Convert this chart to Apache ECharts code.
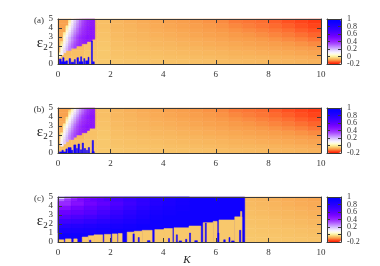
<!DOCTYPE html>
<html><head><meta charset="utf-8">
<script src="https://cdn.jsdelivr.net/npm/echarts@6/dist/echarts.min.js"></script>
<style>html,body{margin:0;padding:0;background:#fff}#c{width:380px;height:266px}</style>
</head><body><div id="c"></div>
<script>
// ---- tick labels ----
const K_TICKS = [0, 2, 4, 6, 8, 10];
const E_TICKS = [0, 1, 2, 3, 4, 5];
const CB_TICKS = [-0.2, 0, 0.2, 0.4, 0.6, 0.8, 1];
const PANEL_LABELS = ['(a)', '(b)', '(c)'];

// ---- colour scale (value -0.2 .. 1) ----
const CMAP = ['#ff1a00','#ff5020','#f99a48','#f8c86c','#fcf0a0','#fffcd8','#f8f4ff','#e8dcff','#d4b8ff','#c490ff','#b468ff','#a444ff','#9828ff','#8c14ff','#7c08ff','#6c00ff','#5c00ff','#4c00ff','#3e00ff','#3000ff','#2400ff','#1a00ff','#1000ff','#0800ff','#0000ff'];

// ---- background field, rows of eps (0-0.5, 0.5-1, ...), 20 values over K step 0.5 ----
const BG_A = [
 [-0.055,-0.055,-0.05,-0.05,-0.052,-0.054,-0.055,-0.056,-0.057,-0.058,-0.059,-0.06,-0.062,-0.063,-0.065,-0.066,-0.068,-0.07,-0.072,-0.074],
 [-0.06,-0.058,-0.052,-0.05,-0.054,-0.056,-0.057,-0.058,-0.06,-0.061,-0.063,-0.064,-0.066,-0.068,-0.07,-0.071,-0.073,-0.075,-0.077,-0.08],
 [-0.065,-0.06,-0.054,-0.05,-0.056,-0.058,-0.06,-0.061,-0.063,-0.065,-0.067,-0.069,-0.071,-0.073,-0.075,-0.078,-0.08,-0.083,-0.086,-0.089],
 [-0.07,-0.065,-0.056,-0.05,-0.058,-0.06,-0.062,-0.064,-0.066,-0.069,-0.071,-0.074,-0.076,-0.079,-0.082,-0.085,-0.088,-0.091,-0.095,-0.099],
 [-0.075,-0.068,-0.058,-0.052,-0.06,-0.063,-0.065,-0.068,-0.07,-0.073,-0.076,-0.079,-0.082,-0.085,-0.089,-0.092,-0.096,-0.1,-0.105,-0.11],
 [-0.078,-0.07,-0.06,-0.054,-0.062,-0.065,-0.068,-0.071,-0.074,-0.077,-0.08,-0.084,-0.088,-0.092,-0.096,-0.1,-0.105,-0.11,-0.116,-0.124],
 [-0.08,-0.075,-0.065,-0.056,-0.064,-0.068,-0.071,-0.075,-0.078,-0.082,-0.086,-0.09,-0.094,-0.099,-0.103,-0.108,-0.114,-0.12,-0.128,-0.136],
 [-0.085,-0.08,-0.07,-0.058,-0.066,-0.07,-0.074,-0.078,-0.082,-0.086,-0.09,-0.095,-0.1,-0.105,-0.11,-0.116,-0.123,-0.13,-0.14,-0.148],
 [-0.09,-0.08,-0.07,-0.06,-0.068,-0.072,-0.077,-0.082,-0.086,-0.09,-0.095,-0.1,-0.105,-0.112,-0.118,-0.124,-0.132,-0.14,-0.15,-0.16],
 [-0.09,-0.08,-0.07,-0.06,-0.07,-0.075,-0.08,-0.085,-0.09,-0.095,-0.1,-0.105,-0.11,-0.12,-0.125,-0.13,-0.14,-0.15,-0.16,-0.17]
];
const BG_B = BG_A; // panel (b) background reads the same as (a)
const BG_C = [
 [-0.05,-0.05,-0.05,-0.05,-0.05,-0.05,-0.05,-0.05,-0.05,-0.05,-0.05,-0.05,-0.05,-0.05,-0.05,-0.051,-0.052,-0.053,-0.054,-0.055],
 [-0.05,-0.05,-0.05,-0.05,-0.05,-0.05,-0.05,-0.05,-0.05,-0.05,-0.05,-0.05,-0.05,-0.05,-0.051,-0.052,-0.053,-0.055,-0.056,-0.058],
 [-0.05,-0.05,-0.05,-0.05,-0.05,-0.05,-0.05,-0.05,-0.05,-0.05,-0.05,-0.05,-0.05,-0.05,-0.052,-0.054,-0.055,-0.057,-0.059,-0.061],
 [-0.05,-0.05,-0.05,-0.05,-0.05,-0.05,-0.05,-0.05,-0.05,-0.05,-0.05,-0.05,-0.05,-0.05,-0.054,-0.056,-0.058,-0.06,-0.062,-0.064],
 [-0.05,-0.05,-0.05,-0.05,-0.05,-0.05,-0.05,-0.05,-0.05,-0.05,-0.05,-0.05,-0.05,-0.052,-0.056,-0.058,-0.06,-0.063,-0.065,-0.068],
 [-0.05,-0.05,-0.05,-0.05,-0.05,-0.05,-0.05,-0.05,-0.05,-0.05,-0.05,-0.05,-0.052,-0.054,-0.058,-0.06,-0.063,-0.066,-0.069,-0.072],
 [-0.05,-0.05,-0.05,-0.05,-0.05,-0.05,-0.05,-0.05,-0.05,-0.05,-0.05,-0.052,-0.054,-0.056,-0.06,-0.063,-0.066,-0.069,-0.072,-0.075],
 [-0.05,-0.05,-0.05,-0.05,-0.05,-0.05,-0.05,-0.05,-0.05,-0.05,-0.052,-0.054,-0.056,-0.058,-0.062,-0.065,-0.068,-0.072,-0.075,-0.079],
 [-0.05,-0.05,-0.05,-0.05,-0.05,-0.05,-0.05,-0.05,-0.05,-0.052,-0.054,-0.056,-0.058,-0.06,-0.064,-0.067,-0.071,-0.075,-0.079,-0.082],
 [-0.05,-0.05,-0.05,-0.05,-0.05,-0.05,-0.05,-0.05,-0.052,-0.054,-0.056,-0.058,-0.06,-0.062,-0.066,-0.07,-0.074,-0.078,-0.082,-0.086]
];

// ---- wedge region: [eps start (rows 0.25 high), K start, values at K step 0.1] ----
const WEDGE_A = [
 [4.75,0.4,[0.0,0.1,0.17,0.23,0.29,0.34,0.38,0.41,0.43,0.45]],
 [4.5,0.4,[0.02,0.11,0.18,0.24,0.3,0.35,0.39,0.42,0.44,0.45]],
 [4.25,0.4,[0.05,0.13,0.2,0.26,0.31,0.36,0.4,0.42,0.44,0.45]],
 [4.0,0.3,[0.0,0.08,0.15,0.21,0.27,0.32,0.37,0.4,0.43,0.44,0.45]],
 [3.75,0.3,[0.02,0.1,0.17,0.23,0.29,0.34,0.38,0.41,0.43,0.45,0.45]],
 [3.5,0.3,[0.05,0.12,0.19,0.25,0.3,0.35,0.39,0.42,0.44,0.45,0.45]],
 [3.25,0.2,[0.0,0.08,0.15,0.21,0.27,0.32,0.36,0.4,0.42,0.44,0.45,0.45]],
 [3.0,0.2,[0.03,0.1,0.17,0.23,0.29,0.34,0.38,0.41,0.43,0.45,0.45,0.45]],
 [2.75,0.2,[0.05,0.13,0.2,0.26,0.31,0.36,0.4,0.42,0.44,0.45,0.45,0.45]],
 [2.5,0.2,[0.05,0.13,0.2,0.26,0.31,0.36,0.4,0.42,0.44,0.45,0.45]],
 [2.25,0.1,[-0.02,0.08,0.15,0.22,0.28,0.33,0.37,0.4,0.42,0.44]],
 [2.0,0.1,[0.0,0.1,0.17,0.24,0.3,0.34,0.38,0.4]],
 [1.75,0.1,[0.03,0.12,0.19,0.26,0.31,0.35]],
 [1.5,0.1,[0.05,0.14,0.21,0.27]],
 [1.25,0.1,[0.08,0.16]],
 [1.0,0.0,[0.02,0.1]],
 [0.75,0.0,[0.05]]
];
const WEDGE_B = [
 [4.75,0.5,[0.0,0.1,0.17,0.23,0.29,0.34,0.38,0.41,0.43]],
 [4.5,0.4,[-0.03,0.04,0.12,0.19,0.25,0.3,0.35,0.39,0.42,0.44]],
 [4.25,0.4,[0.0,0.08,0.15,0.21,0.27,0.32,0.37,0.4,0.43,0.44]],
 [4.0,0.4,[0.04,0.11,0.18,0.24,0.3,0.35,0.39,0.42,0.44,0.45]],
 [3.75,0.3,[-0.02,0.07,0.14,0.21,0.27,0.32,0.37,0.4,0.43,0.44,0.45]],
 [3.5,0.3,[0.02,0.1,0.17,0.23,0.29,0.34,0.38,0.41,0.43,0.45,0.45]],
 [3.25,0.3,[0.05,0.12,0.19,0.25,0.31,0.36,0.4,0.42,0.44,0.45,0.45]],
 [3.0,0.2,[0.0,0.08,0.15,0.22,0.28,0.33,0.37,0.4,0.43,0.44,0.45,0.45]],
 [2.75,0.2,[0.03,0.1,0.17,0.24,0.3,0.35,0.39,0.42,0.44,0.45,0.45,0.45]],
 [2.5,0.2,[0.05,0.13,0.2,0.26,0.32,0.36,0.4,0.42,0.44,0.45]],
 [2.25,0.2,[0.08,0.15,0.22,0.28,0.33,0.37,0.4,0.42,0.44]],
 [2.0,0.1,[0.0,0.1,0.17,0.24,0.3,0.34,0.38,0.4]],
 [1.75,0.1,[0.03,0.12,0.19,0.26,0.31,0.35]],
 [1.5,0.1,[0.06,0.14,0.21,0.27,0.32]],
 [1.25,0.1,[0.08,0.16,0.22]],
 [1.0,0.1,[0.1,0.17]],
 [0.75,0.1,[0.12]]
];

// ---- blue spikes rising from eps=0: [K from, K to, eps top] ----
const SPIKE_VALUE = 0.9;
const SPIKES_A = [[0.05,0.12,0.55],[0.12,0.3,0.25],[0.18,0.23,0.7],[0.3,0.36,0.35],[0.42,0.48,0.6],[0.5,0.6,0.2],[0.62,0.66,0.5],[0.72,0.78,0.7],[0.8,0.95,0.25],[0.86,0.9,0.8],[0.98,1.02,0.6],[1.05,1.15,0.35],[1.14,1.18,0.75],[1.27,1.31,2.55],[1.31,1.38,0.25]];
const SPIKES_B = [[0.05,0.3,0.12],[0.15,0.2,0.3],[0.3,0.35,0.45],[0.38,0.5,0.6],[0.5,0.56,0.3],[0.6,0.68,0.9],[0.7,0.74,0.5],[0.76,0.82,1.0],[0.85,0.9,0.35],[0.92,0.97,1.1],[1.0,1.05,0.5],[1.08,1.12,0.3],[1.15,1.2,0.6],[1.3,1.35,1.4],[1.3,1.38,0.15]];

// ---- panel (c) ----
const BLUE_C = [0, 7.1, 0, 5, 0.9]; // K from, K to, eps from, eps to, value
const GRAD_C = [ // [eps from, eps to, K start, K step, values]
 [4.75,5,0,0.25,[0.15,0.28,0.38,0.45,0.5,0.54,0.58,0.62]],
 [4.5,4.75,0,0.25,[0.3,0.38,0.44,0.49,0.53,0.57,0.6,0.64]],
 [4.5,5,2,0.5,[0.68,0.72,0.76,0.8,0.84,0.87]],
 [4.0,4.5,0,0.5,[0.4,0.47,0.53,0.58,0.64,0.7,0.75,0.8,0.84,0.87]],
 [3.5,4.0,0,0.5,[0.48,0.53,0.58,0.63,0.68,0.73,0.78,0.83,0.86,0.88]],
 [3.0,3.5,0,0.5,[0.55,0.58,0.62,0.67,0.72,0.77,0.82,0.86,0.88]],
 [2.5,3.0,0,0.5,[0.62,0.65,0.68,0.72,0.76,0.8,0.84,0.88]],
 [2.0,2.5,0,0.5,[0.7,0.72,0.75,0.78,0.81,0.84,0.87]],
 [1.5,2.0,0,0.5,[0.78,0.8,0.82,0.84,0.86,0.88]],
 [1.0,1.5,0,0.5,[0.84,0.85,0.86,0.87]]
];
const BAND_VALUE = -0.05;
const BAND_C = [[0.03,0.22,0.25],[0.28,0.5,0.35],[0.6,0.73,0.35],[0.92,1.15,0.55],[1.15,1.37,0.7],[1.37,1.7,0.8],[1.76,2.0,0.85],[2.06,2.25,0.9],[2.29,2.44,0.95],[2.63,2.9,1.1],[2.9,3.2,1.2],[3.2,3.58,1.3],[3.68,4.03,1.38],[4.03,4.35,1.5],[4.41,4.98,1.58],[4.98,5.43,1.78],[5.52,5.9,2.15],[5.9,6.05,2.3],[6.12,6.72,2.45],[6.72,7.0,2.8]];
const BAND_TIPS_C = [[6.94,6.99,2.8,3.4]];
const SPIKES_C = [[2.85,2.9,0.9],[3.05,3.09,0.5],[4.2,4.24,0.4],[4.5,4.54,0.8],[4.85,4.9,0.3],[5.0,5.04,1.0],[5.6,5.64,2.1],[6.08,6.12,1.0],[6.3,6.36,0.25],[6.5,6.54,0.5],[6.9,6.95,1.3],[1.2,1.25,0.2],[3.4,3.5,0.15],[4.6,4.7,0.12],[5.2,5.3,0.15],[6.6,6.7,0.12]];

// ---- build cell tables [K0, K1, eps0, eps1, value] ----
function gridCells(rows, dk, de) {
  const out = [];
  rows.forEach((row, i) => row.forEach((v, j) => out.push([j*dk, (j+1)*dk, i*de, (i+1)*de, v])));
  return out;
}
function rowCells(rows, dk, de) {
  const out = [];
  rows.forEach(([e0, k0, vals]) => vals.forEach((v, j) => out.push([k0 + j*dk, k0 + (j+1)*dk, e0, e0 + de, v])));
  return out;
}
function runCells(rows) {
  const out = [];
  rows.forEach(([e0, e1, k0, dk, vals]) => vals.forEach((v, j) => out.push([k0 + j*dk, k0 + (j+1)*dk, e0, e1, v])));
  return out;
}
function barCells(list, v) { return list.map(([k0, k1, top]) => [k0, k1, 0, top, v]); }

const cellsA = [].concat(gridCells(BG_A, 0.5, 0.5), rowCells(WEDGE_A, 0.1, 0.25), barCells(SPIKES_A, SPIKE_VALUE));
const cellsB = [].concat(gridCells(BG_B, 0.5, 0.5), rowCells(WEDGE_B, 0.1, 0.25), barCells(SPIKES_B, SPIKE_VALUE));
const cellsC = [].concat(gridCells(BG_C, 0.5, 0.5), [BLUE_C], runCells(GRAD_C), barCells(BAND_C, BAND_VALUE),
  BAND_TIPS_C.map(([k0,k1,e0,e1]) => [k0,k1,e0,e1,BAND_VALUE]), barCells(SPIKES_C, SPIKE_VALUE));
const PANEL_CELLS = [cellsA, cellsB, cellsC];

// ---- layout ----
const SERIF = "'Liberation Serif','DejaVu Serif',serif";
const AX = '#3a3a3a';
const PANEL_TOPS = [19, 108, 197];
const PLOT_LEFT = 58, PLOT_W = 263, PLOT_H = 45;
const CB_LEFT = 327, CB_W = 14;

const grids = [], xAxes = [], yAxes = [], series = [], visualMaps = [], graphics = [];
const line = { show: true, onZero: false, lineStyle: { color: AX, width: 1 } };
PANEL_TOPS.forEach((top) => grids.push({ left: PLOT_LEFT, top: top, width: PLOT_W, height: PLOT_H }));
PANEL_TOPS.forEach((top) => grids.push({ left: CB_LEFT, top: top, width: CB_W, height: PLOT_H }));

for (let i = 0; i < 3; i++) {
  const xb = { gridIndex: i, type: 'value', min: K_TICKS[0], max: K_TICKS[K_TICKS.length-1], interval: K_TICKS[1]-K_TICKS[0],
    axisLine: line, splitLine: { show: false }, z: 10,
    axisTick: { inside: true, length: 4, lineStyle: { color: AX } } };
  xAxes.push(Object.assign({}, xb, { position: 'bottom', axisLabel: { margin: 6, fontSize: 9, color: '#333', fontFamily: SERIF, showMinLabel: true, showMaxLabel: true } }));
  xAxes.push(Object.assign({}, xb, { position: 'top', axisLabel: { show: false } }));
  const yb = { gridIndex: i, type: 'value', min: E_TICKS[0], max: E_TICKS[E_TICKS.length-1], interval: E_TICKS[1]-E_TICKS[0],
    axisLine: line, splitLine: { show: false }, z: 10,
    axisTick: { inside: true, length: 4, lineStyle: { color: AX } } };
  yAxes.push(Object.assign({}, yb, { position: 'left', axisLabel: { margin: 5, fontSize: 9, color: '#333', fontFamily: SERIF, showMinLabel: true, showMaxLabel: true } }));
  yAxes.push(Object.assign({}, yb, { position: 'right', axisLabel: { show: false } }));
}
// colour-bar labels split over two overlaid right axes so none are dropped as overlapping
const CB_LABELS_1 = CB_TICKS.filter((v, i) => i % 2 === 0);
const CB_LABELS_2 = CB_TICKS.filter((v, i) => i % 2 === 1);
for (let j = 0; j < 3; j++) {
  const g = 3 + j;
  const xb = { gridIndex: g, type: 'value', min: 0, max: 1, axisLine: line, axisTick: { show: false }, axisLabel: { show: false }, splitLine: { show: false }, z: 10 };
  xAxes.push(Object.assign({}, xb, { position: 'bottom' }));
  xAxes.push(Object.assign({}, xb, { position: 'top' }));
  const yb = { gridIndex: g, type: 'value', min: CB_TICKS[0], max: CB_TICKS[CB_TICKS.length-1], interval: CB_TICKS[2]-CB_TICKS[1],
    axisLine: line, splitLine: { show: false }, z: 10, axisTick: { inside: true, length: 3, lineStyle: { color: AX } } };
  const lab = { margin: 6, fontSize: 8, color: '#333', fontFamily: SERIF, showMinLabel: true, showMaxLabel: true,
    formatter: (v) => String(Math.round(v * 10) / 10) };
  yAxes.push(Object.assign({}, yb, { position: 'left', axisLabel: { show: false } }));
  yAxes.push(Object.assign({}, yb, { position: 'right', axisLabel: Object.assign({}, lab, { customValues: CB_LABELS_1 }) }));
  yAxes.push(Object.assign({}, yb, { position: 'right', axisLine: { show: false, onZero: false }, axisTick: { show: false },
    axisLabel: Object.assign({}, lab, { customValues: CB_LABELS_2 }) }));
}

function renderCell(params, api) {
  const p0 = api.coord([api.value(0), api.value(3)]);
  const p1 = api.coord([api.value(1), api.value(2)]);
  const cs = params.coordSys;
  const shape = echarts.graphic.clipRectByRect(
    { x: p0[0], y: p0[1], width: p1[0] - p0[0], height: p1[1] - p0[1] },
    { x: cs.x, y: cs.y, width: cs.width, height: cs.height });
  if (!shape) return;
  const c = api.visual('color');
  return { type: 'rect', shape: shape, style: { fill: c, stroke: c, lineWidth: 0.5 } };
}

for (let i = 0; i < 3; i++) {
  series.push({ type: 'custom', xAxisIndex: 2*i, yAxisIndex: 2*i, renderItem: renderCell,
    dimensions: ['k0','k1','e0','e1','v'], encode: { x: [0,1], y: [2,3] },
    data: PANEL_CELLS[i], silent: true, animation: false });
  visualMaps.push({ type: 'continuous', seriesIndex: i, dimension: 4, min: CB_TICKS[0], max: CB_TICKS[CB_TICKS.length-1],
    calculable: false, orient: 'vertical', left: CB_LEFT, top: PANEL_TOPS[i], itemWidth: CB_W, itemHeight: PLOT_H,
    padding: 0, inRange: { color: CMAP }, text: null, hoverLink: false });
  graphics.push({ type: 'text', x: 39, y: PANEL_TOPS[i] + 1.5, style: { text: PANEL_LABELS[i], font: '9px ' + SERIF, fill: '#333', textAlign: 'center', textVerticalAlign: 'middle' } });
  graphics.push({ type: 'text', x: 40, y: PANEL_TOPS[i] + 24, style: { text: 'ε', font: '15px ' + SERIF, fill: '#222', textAlign: 'center', textVerticalAlign: 'middle' } });
  graphics.push({ type: 'text', x: 45.5, y: PANEL_TOPS[i] + 28.5, style: { text: '2', font: '9px ' + SERIF, fill: '#222', textAlign: 'center', textVerticalAlign: 'middle' } });
}
graphics.push({ type: 'text', x: 187, y: 260, style: { text: 'K', font: 'italic 11px ' + SERIF, fill: '#222', textAlign: 'center', textVerticalAlign: 'middle' } });

const chart = echarts.init(document.getElementById('c'), null, { renderer: 'canvas' });
chart.setOption({ animation: false, backgroundColor: '#fff', grid: grids, xAxis: xAxes, yAxis: yAxes,
  series: series, visualMap: visualMaps, graphic: graphics });
</script></body></html>
